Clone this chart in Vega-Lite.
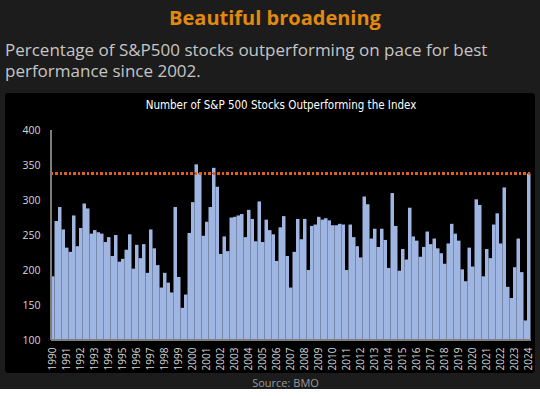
{
  "$schema": "https://vega.github.io/schema/vega-lite/v6.json",
  "background": "#1c1c1c",
  "padding": {"left": 5, "right": 5, "top": 9, "bottom": 0},
  "title": {"text": "Beautiful broadening", "color": "#e2890f", "font": "Open Sans", "fontSize": 20, "fontWeight": "bold", "anchor": "middle", "offset": 13, "dx": 5},
  "config": {"view": {"fill": "#000000", "stroke": null, "cornerRadius": 3}, "concat": {"spacing": 0}},
  "vconcat": [
    {
      "title": {"text": ["Percentage of S&P500 stocks outperforming on pace for best", "performance since 2002."], "anchor": "start", "color": "#c6c6c6", "font": "Open Sans", "fontSize": 17, "fontWeight": "normal", "lineHeight": 21, "offset": 12},
      "vconcat": [
        {
          "width": 530,
          "height": 280,
          "title": {"text": "Number of S&P 500 Stocks Outperforming the Index", "color": "#ffffff", "font": "DejaVu Sans Condensed", "fontSize": 11.5, "fontWeight": "normal", "anchor": "middle", "offset": -18, "dx": 11},
          "data": {"values": [
            {"p":"1990Q1","v":191},{"p":"1990Q2","v":270},{"p":"1990Q3","v":290},{"p":"1990Q4","v":258},
            {"p":"1991Q1","v":232},{"p":"1991Q2","v":226},{"p":"1991Q3","v":278},{"p":"1991Q4","v":234},
            {"p":"1992Q1","v":260},{"p":"1992Q2","v":295},{"p":"1992Q3","v":288},{"p":"1992Q4","v":252},
            {"p":"1993Q1","v":257},{"p":"1993Q2","v":254},{"p":"1993Q3","v":252},{"p":"1993Q4","v":240},
            {"p":"1994Q1","v":247},{"p":"1994Q2","v":220},{"p":"1994Q3","v":250},{"p":"1994Q4","v":212},
            {"p":"1995Q1","v":216},{"p":"1995Q2","v":229},{"p":"1995Q3","v":251},{"p":"1995Q4","v":202},
            {"p":"1996Q1","v":236},{"p":"1996Q2","v":217},{"p":"1996Q3","v":237},{"p":"1996Q4","v":196},
            {"p":"1997Q1","v":258},{"p":"1997Q2","v":231},{"p":"1997Q3","v":207},{"p":"1997Q4","v":175},
            {"p":"1998Q1","v":196},{"p":"1998Q2","v":182},{"p":"1998Q3","v":168},{"p":"1998Q4","v":290},
            {"p":"1999Q1","v":190},{"p":"1999Q2","v":146},{"p":"1999Q3","v":165},{"p":"1999Q4","v":253},
            {"p":"2000Q1","v":297},{"p":"2000Q2","v":351},{"p":"2000Q3","v":338},{"p":"2000Q4","v":249},
            {"p":"2001Q1","v":269},{"p":"2001Q2","v":290},{"p":"2001Q3","v":346},{"p":"2001Q4","v":319},
            {"p":"2002Q1","v":223},{"p":"2002Q2","v":248},{"p":"2002Q3","v":227},{"p":"2002Q4","v":275},
            {"p":"2003Q1","v":276},{"p":"2003Q2","v":278},{"p":"2003Q3","v":280},{"p":"2003Q4","v":247},
            {"p":"2004Q1","v":286},{"p":"2004Q2","v":273},{"p":"2004Q3","v":241},{"p":"2004Q4","v":298},
            {"p":"2005Q1","v":240},{"p":"2005Q2","v":272},{"p":"2005Q3","v":257},{"p":"2005Q4","v":251},
            {"p":"2006Q1","v":213},{"p":"2006Q2","v":261},{"p":"2006Q3","v":277},{"p":"2006Q4","v":220},
            {"p":"2007Q1","v":175},{"p":"2007Q2","v":226},{"p":"2007Q3","v":273},{"p":"2007Q4","v":244},
            {"p":"2008Q1","v":273},{"p":"2008Q2","v":200},{"p":"2008Q3","v":263},{"p":"2008Q4","v":265},
            {"p":"2009Q1","v":276},{"p":"2009Q2","v":272},{"p":"2009Q3","v":274},{"p":"2009Q4","v":271},
            {"p":"2010Q1","v":264},{"p":"2010Q2","v":264},{"p":"2010Q3","v":266},{"p":"2010Q4","v":265},
            {"p":"2011Q1","v":200},{"p":"2011Q2","v":265},{"p":"2011Q3","v":247},{"p":"2011Q4","v":234},
            {"p":"2012Q1","v":218},{"p":"2012Q2","v":305},{"p":"2012Q3","v":294},{"p":"2012Q4","v":245},
            {"p":"2013Q1","v":259},{"p":"2013Q2","v":233},{"p":"2013Q3","v":259},{"p":"2013Q4","v":243},
            {"p":"2014Q1","v":203},{"p":"2014Q2","v":310},{"p":"2014Q3","v":263},{"p":"2014Q4","v":199},
            {"p":"2015Q1","v":230},{"p":"2015Q2","v":215},{"p":"2015Q3","v":289},{"p":"2015Q4","v":248},
            {"p":"2016Q1","v":242},{"p":"2016Q2","v":219},{"p":"2016Q3","v":233},{"p":"2016Q4","v":255},
            {"p":"2017Q1","v":237},{"p":"2017Q2","v":245},{"p":"2017Q3","v":231},{"p":"2017Q4","v":224},
            {"p":"2018Q1","v":209},{"p":"2018Q2","v":238},{"p":"2018Q3","v":266},{"p":"2018Q4","v":252},
            {"p":"2019Q1","v":242},{"p":"2019Q2","v":201},{"p":"2019Q3","v":184},{"p":"2019Q4","v":232},
            {"p":"2020Q1","v":205},{"p":"2020Q2","v":301},{"p":"2020Q3","v":293},{"p":"2020Q4","v":191},
            {"p":"2021Q1","v":230},{"p":"2021Q2","v":217},{"p":"2021Q3","v":265},{"p":"2021Q4","v":281},
            {"p":"2022Q1","v":238},{"p":"2022Q2","v":318},{"p":"2022Q3","v":176},{"p":"2022Q4","v":160},
            {"p":"2023Q1","v":204},{"p":"2023Q2","v":245},{"p":"2023Q3","v":197},{"p":"2023Q4","v":128},
            {"p":"2024Q1","v":338}
          ]},
          "layer": [
            {
              "mark": {"type": "bar", "color": "#a0b6e2"},
              "encoding": {
                "x": {"field": "p", "type": "ordinal", "sort": null,
                  "scale": {"paddingInner": 0, "paddingOuter": 0, "range": [46, 525.5]},
                  "axis": {"values": ["1990Q1","1991Q1","1992Q1","1993Q1","1994Q1","1995Q1","1996Q1","1997Q1","1998Q1","1999Q1","2000Q1","2001Q1","2002Q1","2003Q1","2004Q1","2005Q1","2006Q1","2007Q1","2008Q1","2009Q1","2010Q1","2011Q1","2012Q1","2013Q1","2014Q1","2015Q1","2016Q1","2017Q1","2018Q1","2019Q1","2020Q1","2021Q1","2022Q1","2023Q1","2024Q1"],
                    "labelExpr": "substring(datum.label,0,4)", "labelAngle": -90, "offset": -33, "domain": false, "ticks": false, "labelPadding": 7,
                    "labelColor": "#d6d6d6", "labelFont": "Open Sans", "labelFontSize": 10,
                    "title": "Source: BMO", "titleColor": "#9a9a9a", "titleFont": "Open Sans", "titleFontWeight": "normal", "titleFontSize": 11, "titlePadding": 8, "titleX": 280}},
                "y": {"field": "v", "type": "quantitative",
                  "scale": {"domain": [52.9, 452.9], "nice": false, "zero": false},
                  "axis": {"values": [100,150,200,250,300,350,400], "offset": -46, "domain": false, "ticks": false, "grid": false, "labelPadding": 11,
                    "labelColor": "#d6d6d6", "labelFont": "Open Sans", "labelFontSize": 10.5, "title": null}},
                "y2": {"datum": 100}
              }
            },
            {
              "mark": {"type": "rule", "color": "#e0601e", "strokeWidth": 2, "strokeDash": [2, 2.5]},
              "encoding": {
                "x": {"datum": "1990Q1", "type": "ordinal", "bandPosition": 0},
                "x2": {"datum": "2024Q1", "bandPosition": 1},
                "y": {"datum": 338, "type": "quantitative"}
              }
            },
            {
              "mark": {"type": "rule", "color": "#7f7f7f", "strokeWidth": 1},
              "encoding": {
                "x": {"datum": "1990Q1", "type": "ordinal", "bandPosition": 0},
                "y": {"datum": 100, "type": "quantitative"},
                "y2": {"datum": 400}
              }
            },
            {
              "mark": {"type": "rule", "color": "#7f7f7f", "strokeWidth": 1},
              "encoding": {
                "x": {"datum": "1990Q1", "type": "ordinal", "bandPosition": 0},
                "x2": {"datum": "2024Q1", "bandPosition": 1},
                "y": {"datum": 100, "type": "quantitative"}
              }
            }
          ]
        }
      ]
    }
  ]
}
